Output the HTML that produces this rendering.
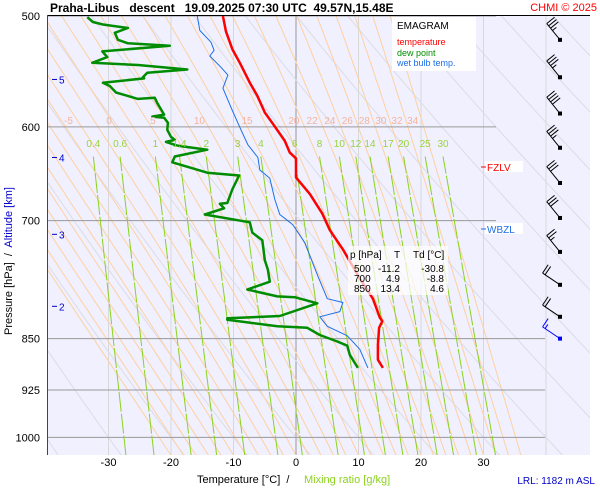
<!DOCTYPE html>
<html><head><meta charset="utf-8">
<style>
body{margin:0;background:#fff;}
svg{display:block;font-family:"Liberation Sans",sans-serif;}
text{white-space:pre;}
</style></head>
<body>
<svg id="c" width="600" height="500" viewBox="0 0 600 500">
<rect x="47" y="16" width="543" height="439" fill="#f0f0ff"/>
<g id="bg"></g>
<g id="series"></g>
<g id="fg"></g>
</svg>
<script>
const tempP=[500,513,528,540,558,570,586,597,614,626,632,652,670,692,711,734,770,796,821,826,835,859,880,892];
const tempT=[-11.7,-11.2,-10.2,-9,-7.4,-6.2,-5,-3.7,-1.8,-1,0,0,2.2,4.2,5.4,7.5,10.2,12.3,13.4,13.8,13.3,13.1,13.1,13.9];
const dewP=[501,505,507,510,514,520,523,525,530,535,540,542,546,549,553,554,558,561,567,573,572,577,588,590,591,596,603,610,613,615,619,623,630,636,647,650,665,680,681,686,693,702,714,723,747,759,774,784,793,794,802,819,822,824,833,835,845,854,860,873,892];
const dewT=[-33.4,-32.5,-30.9,-26.9,-29,-28.5,-26.9,-20.2,-31,-30.2,-32.6,-25.3,-17.4,-23.8,-24.5,-24.3,-30.9,-29.8,-28.8,-25.3,-22.6,-22.2,-21.1,-23,-21.1,-20.5,-20.6,-20,-19.4,-20.8,-18.9,-14.2,-19.4,-19.8,-14.2,-9.1,-10.2,-11,-12.2,-11.5,-14.6,-7.4,-7,-5.4,-5,-4.5,-4.2,-7.8,-3,-0.2,3.4,-2.6,-11,-11,-3,1.8,3.8,6.6,8.2,8.6,9.9];
const wbP=[500,512,522,529,534,544,551,563,584,603,618,631,644,653,676,693,702,705,726,767,796,801,813,820,833,846,865,892];
const wbT=[-15.8,-15.4,-13.6,-13.1,-13.8,-12,-10.9,-11.7,-10.2,-8.8,-7.7,-6.1,-5.8,-4.2,-3.4,-2.6,-1,-0.5,1.4,3.5,5,7.5,7,3.8,5,8.2,10.2,11.5];
const xTicks=[-30,-20,-10,0,10,20,30];
const pTicks=[500,600,700,850,925,1000];
const altKm=[5,4,3,2];
const altP=[555,631,716,806];
const mixRatios=[0.4,0.6,1,1.4,2,3,4,6,8,10,12,14,17,20,25,30];
const thetaW=[-5,0,5,10,15,20,22,24,26,28,30,32,34];
const windP=[520,553,587,621,658,697,737,778,820,850];
const windSpd=[35,35,40,35,30,30,25,20,20,15];

const NS='http://www.w3.org/2000/svg';
const X=t=>296+6.25*t;
const Y=p=>16+608*Math.log(p/500);
const PMAX=1030;
function mk(tag,attrs,parent){const e=document.createElementNS(NS,tag);for(const k in attrs)e.setAttribute(k,attrs[k]);parent.appendChild(e);return e;}
const bg=document.getElementById('bg'),ser=document.getElementById('series'),fg=document.getElementById('fg');
const clip=mk('clipPath',{id:'cp'},document.getElementById('c'));
mk('rect',{x:47,y:16,width:543,height:439},clip);
bg.setAttribute('clip-path','url(#cp)');

for(let t=-40;t<=40;t+=10){
  const l=mk('line',{x1:X(t),x2:X(t),y1:16,y2:455,stroke:t===0?'#999':'#d8d8d8','stroke-width':1},bg);
  
  
}
for(let th=-40;th<=120;th+=10){
  let d='';
  for(let p=PMAX;p>=490;p-=10){const T=(th+273.15)*Math.pow(p/1000,0.286)-273.15;d+=(d?'L':'M')+X(T).toFixed(1)+','+Y(p).toFixed(1);}
  const l=mk('path',{d:d,fill:'none',stroke:'#dcdce4','stroke-width':1},bg);
  
  
}
function dTdp(T,p){const Tk=T+273.15;const es=6.112*Math.exp(17.67*T/(T+243.5));const rs=0.622*es/(p-es);return (1/p)*(287*Tk+2.5e6*rs)/(1004+2.5e6*2.5e6*rs*0.622/(287*Tk*Tk));}
for(let tw=-20;tw<=36;tw+=2){
  let T=tw,d='';
  for(let p=PMAX;p>=490;p-=5){d+=(d?'L':'M')+X(T).toFixed(1)+','+Y(p).toFixed(1);T-=dTdp(T,p)*5;}
  const l=mk('path',{d:d,fill:'none',stroke:'#ffd0a0','stroke-width':1},bg);
  
  
}
pTicks.forEach(p=>{
  const l=mk('line',{x1:47,x2:p>=850?545:496,y1:Y(p),y2:Y(p),stroke:'#999','stroke-width':1},bg);
  
  
});
function tw_of(w,p){const e=w*p/(622+w);const a=Math.log(e/6.112);return 243.5*a/(17.67-a);}
mixRatios.forEach(w=>{
  const l=mk('line',{x1:X(tw_of(w,PMAX)),y1:Y(PMAX),x2:X(tw_of(w,630)),y2:Y(630),stroke:'#8cd21e','stroke-width':1,'stroke-dasharray':'20,2'},bg);
  
  
  const t=mk('text',{x:X(tw_of(w,630)),y:147,'font-size':10,fill:'#9ad23c','text-anchor':'middle'},fg);
  t.textContent=w;
  
  
});
thetaW.forEach(tw=>{
  let T=tw;for(let p=1000;p>604;p-=5){T-=dTdp(T,p)*5;}
  const t=mk('text',{x:X(T)-2,y:124,'font-size':10,fill:'#f4b49c','text-anchor':'middle'},fg);
  t.textContent=tw;
  
  
});
function line(P,T,color,w,name){
  const d=P.map((p,i)=>(i?'L':'M')+X(T[i]).toFixed(1)+','+Y(p).toFixed(1)).join('');
  const l=mk('path',{d:d,fill:'none',stroke:color,'stroke-width':w,'stroke-linejoin':'round'},ser);
  
  
}
line(wbP,wbT,'#1e6ee6',1,'wet-bulb-line');
line(dewP,dewT,'#008c00',2.5,'dew-point-line');
line(tempP,tempT,'#ff0000',2.5,'temperature-line');

mk('line',{x1:47,y1:15.5,x2:590,y2:15.5,stroke:'#000','stroke-width':1},fg);
mk('line',{x1:47.5,y1:15,x2:47.5,y2:455,stroke:'#444','stroke-width':1},fg);

xTicks.forEach(t=>{
  const e=mk('text',{x:X(t),y:466,'font-size':11,'text-anchor':'middle',fill:'#000'},fg);
  e.textContent=t;
  
  
});
pTicks.forEach(p=>{
  const e=mk('text',{x:40,y:Y(p)+4,'font-size':11,'text-anchor':'end',fill:'#000'},fg);
  e.textContent=p;
  
  
});
altKm.forEach((k,i)=>{
  const y=Y(altP[i]);
  mk('line',{x1:52,x2:57,y1:y,y2:y,stroke:'#0000cc'},fg);
  const e=mk('text',{x:59,y:y+4,'font-size':10,fill:'#0000cc'},fg);
  e.textContent=k;
  
  
});
windP.forEach((p,i)=>{
  const y=Y(p),x=560,blue=i===windP.length-1,c=blue?'#0000ff':'#000';
  const g=mk('g',{},fg);
  
  
  const ang=(i>=7?-146:-129)*Math.PI/180;
  const len=21;
  const ux=Math.cos(ang),uy=Math.sin(ang);
  const ex=x+ux*len,ey=y+uy*len;
  mk('line',{x1:x,y1:y,x2:ex,y2:ey,stroke:c,'stroke-width':1},g);
  mk('rect',{x:x-2,y:y-2,width:4,height:4,fill:c},g);
  const bx0=-uy,by0=ux; // perpendicular
  let s=windSpd[i],k=0;
  while(s>=10){const bx=ex-ux*k*3,by=ey-uy*k*3;mk('line',{x1:bx,y1:by,x2:bx+bx0*10,y2:by+by0*10,stroke:c},g);k++;s-=10;}
  if(s>=5){const bx=ex-ux*k*3,by=ey-uy*k*3;mk('line',{x1:bx,y1:by,x2:bx+bx0*5,y2:by+by0*5,stroke:c},g);}
});
</script>
<svg width="600" height="500" style="position:absolute;left:0;top:0" font-family="Liberation Sans, sans-serif">
<text x="50" y="12" font-size="12" font-weight="bold">Praha-Libus   descent   19.09.2025 07:30 UTC  49.57N,15.48E</text>
<text x="597" y="11" font-size="11" fill="#ff0000" text-anchor="end">CHMI © 2025</text>
<g>
<rect x="392" y="17" width="84" height="54" fill="#ffffff"/>
<text x="397" y="29" font-size="10">EMAGRAM</text>
<text x="397" y="45" font-size="9" fill="#ff0000">temperature</text>
<text x="397" y="56" font-size="9" fill="#008c00">dew point</text>
<text x="397" y="66" font-size="9" fill="#1e6ee6">wet bulb temp.</text>
</g>
<g font-size="10">
<rect x="348" y="246" width="100" height="49" fill="#ffffff" fill-opacity="0.7"/>
<text x="350" y="258">p [hPa]</text><text x="394" y="258">T</text><text x="413" y="258">Td [°C]</text>
<text x="354" y="272">500</text><text x="400" y="272" text-anchor="end">-11.2</text><text x="444" y="272" text-anchor="end">-30.8</text>
<text x="354" y="282">700</text><text x="400" y="282" text-anchor="end">4.9</text><text x="444" y="282" text-anchor="end">-8.8</text>
<text x="354" y="292">850</text><text x="400" y="292" text-anchor="end">13.4</text><text x="444" y="292" text-anchor="end">4.6</text>
</g>
<g>
<rect x="485" y="161" width="38" height="11" fill="#fff"/>
<line x1="481" y1="167" x2="486" y2="167" stroke="#ff0000"/>
<text x="487" y="171" font-size="10" fill="#ff0000">FZLV</text>
</g>
<g>
<rect x="485" y="223" width="38" height="11" fill="#fff"/>
<line x1="481" y1="229" x2="486" y2="229" stroke="#1e6ee6"/>
<text x="487" y="233" font-size="10" fill="#1e6ee6">WBZL</text>
</g>
<text x="197" y="483" font-size="11">Temperature [°C]  /</text>
<text x="304" y="483" font-size="11" fill="#8cd21e">Mixing ratio [g/kg]</text>
<text x="595" y="484" font-size="10" fill="#0000cc" text-anchor="end">LRL: 1182 m ASL</text>
<text transform="translate(12,335) rotate(-90)" font-size="11">Pressure [hPa]  /  <tspan fill="#0000cc">Altitude [km]</tspan></text>
</svg>
</body></html>
